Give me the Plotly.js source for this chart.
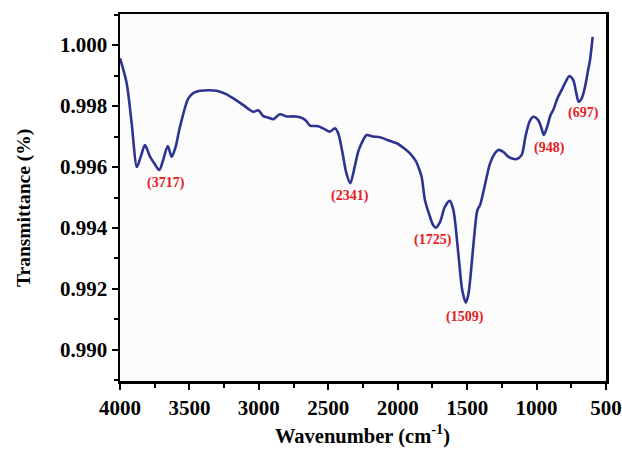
<!DOCTYPE html>
<html>
<head>
<meta charset="utf-8">
<script src="https://cdn.plot.ly/plotly-3.0.1.min.js"></script>
<style>
  html, body { margin: 0; padding: 0; background: #ffffff; }
  #chart { width: 622px; height: 449px; }
</style>
</head>
<body>
<div id="chart"></div>
<script>
// FTIR spectrum: wavenumber (cm-1) and transmittance
const wavenumber = [
  4000, 3952, 3916, 3878, 3850, 3820, 3784, 3750, 3717, 3690, 3656, 3628, 3600, 3568,
  3508, 3470, 3424, 3360, 3304, 3240, 3184, 3112, 3064, 3040, 3004, 2968, 2930, 2896,
  2848, 2800, 2750, 2704, 2660, 2632, 2572, 2530, 2488, 2452, 2428, 2395, 2370, 2341,
  2315, 2285, 2260, 2224, 2180, 2128, 2070, 2007, 1950, 1912, 1870, 1852, 1828, 1804,
  1770, 1745, 1725, 1695, 1660, 1624, 1600, 1588, 1560, 1535, 1509, 1490, 1470, 1456,
  1426, 1407, 1370, 1335, 1300, 1276, 1240, 1204, 1170, 1144, 1108, 1080, 1050, 1024,
  988, 965, 948, 925, 900, 880, 850, 820, 790, 765, 736, 715, 697, 675, 651, 630, 615, 596
];
const transmittance = [
  0.99957, 0.99875, 0.99744, 0.99600, 0.99635, 0.99672, 0.99634, 0.99610, 0.99590, 0.99622, 0.99669, 0.99634, 0.99665, 0.99732,
  0.99825, 0.99843, 0.99850, 0.99852, 0.99850, 0.99840, 0.99825, 0.99803, 0.99787, 0.99781, 0.99786, 0.99767, 0.99762, 0.99757,
  0.99773, 0.99766, 0.99766, 0.99763, 0.99752, 0.99736, 0.99734, 0.99725, 0.99716, 0.99727, 0.99710, 0.99640, 0.99580, 0.99547,
  0.99590, 0.99650, 0.99678, 0.99705, 0.99700, 0.99698, 0.99688, 0.99678, 0.99660, 0.99645, 0.99620, 0.99601, 0.99568, 0.99492,
  0.99440, 0.99410, 0.99401, 0.99420, 0.99470, 0.99489, 0.99460, 0.99426, 0.99300, 0.99195, 0.99155, 0.99185, 0.99270, 0.99339,
  0.99459, 0.99475, 0.99545, 0.99612, 0.99645, 0.99656, 0.99650, 0.99634, 0.99627, 0.99626, 0.99639, 0.99700, 0.99750, 0.99765,
  0.99754, 0.99728, 0.99705, 0.99730, 0.99770, 0.99787, 0.99825, 0.99852, 0.99880, 0.99898, 0.99885, 0.99845, 0.99814, 0.99825, 0.99863, 0.99915, 0.99951, 1.00027
];

// Assigned absorption bands (cm-1)
const peakBands = [3717, 2341, 1725, 1509, 948, 697];

// Axis tick values
const xTicks = [4000, 3500, 3000, 2500, 2000, 1500, 1000, 500];
const yTicks = [0.990, 0.992, 0.994, 0.996, 0.998, 1.000];

// Label offsets from each band minimum, in pixels
const labelShift = {
  3717: [7, -13], 2341: [0, -13], 1725: [-3, -12],
  1509: [-1, -14], 948: [6, -13], 697: [5, -11]
};

const serif = '"Liberation Serif", "Times New Roman", Times, serif';

const trace = {
  x: wavenumber,
  y: transmittance,
  type: 'scatter',
  mode: 'lines',
  line: { color: '#2d3390', width: 2.6, shape: 'spline', smoothing: 0.8 },
  hoverinfo: 'x+y'
};

const bandLabels = peakBands.map(b => {
  const i = wavenumber.indexOf(b);
  return {
    x: b, y: transmittance[i], xref: 'x', yref: 'y',
    text: '(' + b + ')', showarrow: false,
    xanchor: 'center', yanchor: 'middle',
    xshift: labelShift[b][0], yshift: labelShift[b][1],
    font: { family: serif, size: 14, color: '#e3201f', weight: 'bold' }
  };
});

// Axis titles, placed in paper coordinates
const axisTitles = [
  {
    xref: 'paper', yref: 'paper', x: 0.498, y: -0.145,
    xanchor: 'center', yanchor: 'middle', showarrow: false,
    text: 'Wavenumber (cm<sup>-1</sup>)',
    font: { family: serif, size: 20.5, color: '#000000', weight: 'bold' }
  },
  {
    xref: 'paper', yref: 'paper', x: -0.199, y: 0.472,
    xanchor: 'center', yanchor: 'middle', showarrow: false, textangle: -90,
    text: 'Transmittance (%)',
    font: { family: serif, size: 19.5, color: '#000000', weight: 'bold' }
  }
];

const axisCommon = {
  showline: true, linecolor: '#000000', linewidth: 2.5,
  mirror: true, ticks: 'outside', ticklen: 6, tickwidth: 2, tickcolor: '#000000',
  showgrid: false, zeroline: false,
  tickfont: { family: serif, size: 21, color: '#000000', weight: 'bold' }
};

const layout = {
  width: 622, height: 449,
  margin: { l: 120, r: 16, t: 14, b: 68 },
  paper_bgcolor: '#ffffff',
  plot_bgcolor: '#fcfcfc',
  showlegend: false,
  xaxis: Object.assign({}, axisCommon, {
    range: [4000, 500],
    tickvals: xTicks,
    minor: { dtick: 250, ticks: 'outside', ticklen: 4, tickwidth: 2, tickcolor: '#000000' }
  }),
  yaxis: Object.assign({}, axisCommon, {
    range: [0.98898, 1.00102],
    tickvals: yTicks,
    tickformat: '.3f',
    minor: { dtick: 0.001, ticks: 'outside', ticklen: 4, tickwidth: 2, tickcolor: '#000000' }
  }),
  annotations: bandLabels.concat(axisTitles)
};

Plotly.newPlot('chart', [trace], layout, { displayModeBar: false, staticPlot: true });
</script>
</body>
</html>
